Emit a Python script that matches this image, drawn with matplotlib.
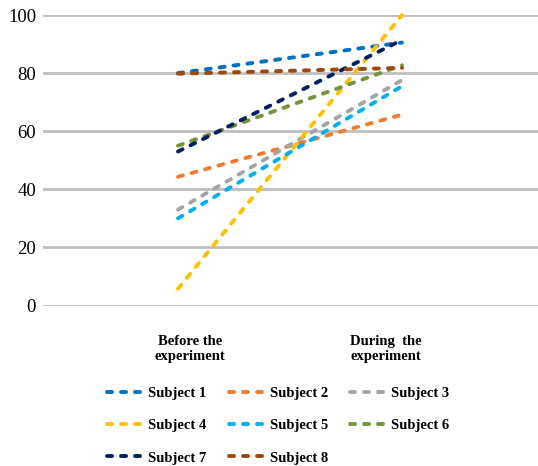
import matplotlib
matplotlib.use("Agg")
import matplotlib.pyplot as plt

# Scores per subject, before and during the experiment
phases = ["Before the\nexperiment", "During  the\nexperiment"]
subjects = ["Subject 1", "Subject 2", "Subject 3", "Subject 4",
            "Subject 5", "Subject 6", "Subject 7", "Subject 8"]
before = [80, 44.3, 33, 5.8, 30, 55, 53, 79.8]
during = [90.5, 65.7, 77.6, 100, 75.5, 82.7, 91.4, 81.8]
colors = ["#0070C0", "#ED7D31", "#A5A5A5", "#FFC000",
          "#00B0F0", "#77933C", "#002060", "#9E480E"]
yticks = [0, 20, 40, 60, 80, 100]

plt.rcParams["font.family"] = ["Liberation Serif", "DejaVu Serif"]

fig = plt.figure(figsize=(5.38, 4.66), dpi=100)
ax = fig.add_axes([43 / 538, 1 - 305.5 / 466, 1 - 43 / 538, (305.5 - 15) / 466])

x = [0, 1]
lines = []
for name, b, d, c in zip(subjects, before, during, colors):
    ln, = ax.plot(x, [b, d], color=c, lw=2.8, linestyle=(0, (1.3, 2.3)),
                  dash_capstyle="round", label=name, clip_on=False, zorder=3)
    lines.append(ln)

ax.set_ylim(0, 100)
ax.set_xlim(-135 / 224, 1 + 136 / 224)
ax.set_yticks(yticks)
ax.set_yticklabels([str(v) for v in yticks], fontsize=13.5)
# category labels sit slightly inward of the line ends
ax.set_xticks([12 / 224, 208 / 224])
ax.set_xticklabels(phases, fontsize=10.5, fontweight="bold", linespacing=1.25)
ax.tick_params(axis="both", length=0)
ax.tick_params(axis="x", pad=21)
ax.tick_params(axis="y", pad=5)
ax.yaxis.grid(True, color="#BFBFBF", lw=2)
ax.set_axisbelow(True)
for s in ax.spines.values():
    s.set_visible(False)

# Legend filled row by row in three columns
order = [0, 3, 6, 1, 4, 7, 2, 5]
fig.legend([lines[i] for i in order], [subjects[i] for i in order],
           ncol=3, loc="upper left", bbox_to_anchor=(107 / 538, 1 - 387 / 466),
           frameon=False, prop={"weight": "bold", "size": 10.5},
           handlelength=2.4, handletextpad=0.4, columnspacing=1.55,
           labelspacing=1.3, borderaxespad=0, borderpad=0)

fig.savefig("out.png", dpi=100)
